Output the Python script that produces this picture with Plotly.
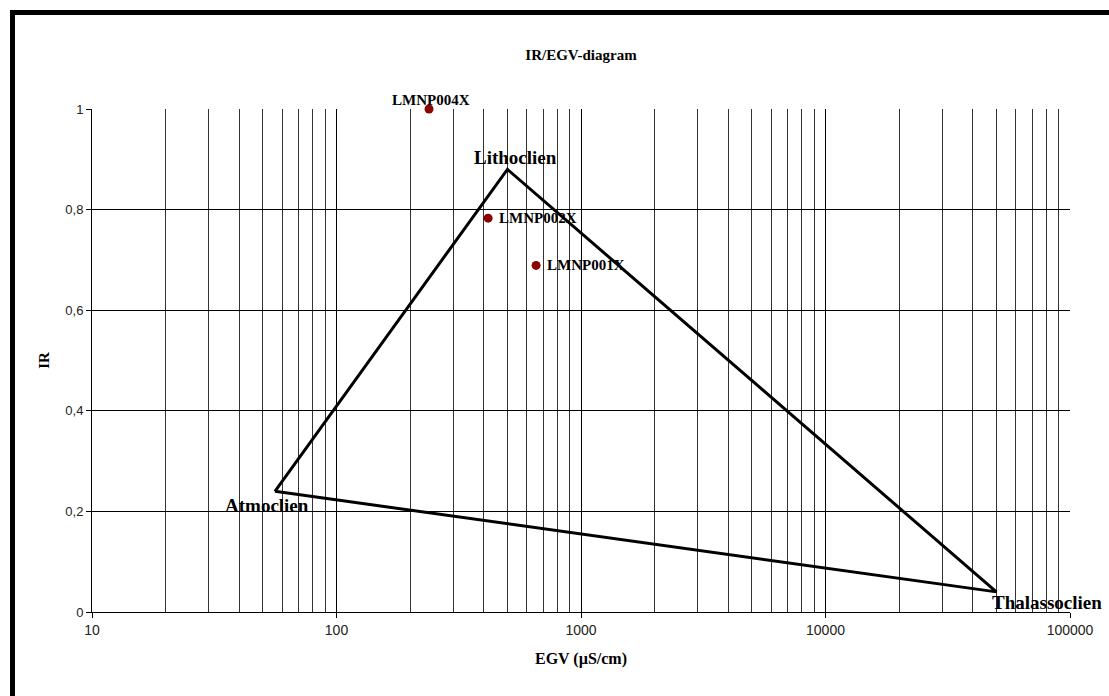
import math
import plotly.graph_objects as go

# Data
triangle_names = ["Atmoclien", "Lithoclien", "Thalassoclien"]
triangle_egv = [56, 500, 50000]
triangle_ir = [0.24, 0.88, 0.04]

sample_names = ["LMNP004X", "LMNP002X", "LMNP001X"]
sample_egv = [239, 417, 655]
sample_ir = [1.0, 0.783, 0.689]

x_tickvals = [10, 100, 1000, 10000, 100000]
x_ticktext = ["10", "100", "1000", "10000", "100000"]
y_tickvals = [0, 0.2, 0.4, 0.6, 0.8, 1.0]
y_ticktext = ["0", "0,2", "0,4", "0,6", "0,8", "1"]

W, H = 1109, 696
ML, MR, MT, MB = 92, 39, 109, 84
PW = W - ML - MR
PH = H - MT - MB

serif = "Liberation Serif"
sans = "Liberation Sans"

fig = go.Figure()

# triangle
fig.add_trace(go.Scatter(
    x=triangle_egv + [triangle_egv[0]],
    y=triangle_ir + [triangle_ir[0]],
    mode="lines",
    line=dict(color="black", width=3),
    hoverinfo="skip",
    showlegend=False,
    cliponaxis=False,
))

# samples
fig.add_trace(go.Scatter(
    x=sample_egv, y=sample_ir, mode="markers",
    marker=dict(color="#8B0000", size=9),
    showlegend=False, cliponaxis=False,
))

# vertex labels (annotations; log axis uses log10 coords)
v_style = [("center", -8, -14), ("center", 8, 12), ("center", 51, -11)]
for n, xv, yv, (xa, dx, dy) in zip(triangle_names, triangle_egv, triangle_ir, v_style):
    fig.add_annotation(
        x=math.log10(xv), y=yv, xref="x", yref="y", text="<b>%s</b>" % n,
        showarrow=False, xanchor=xa, yanchor="middle", xshift=dx, yshift=dy,
        font=dict(family=serif, size=19, color="black"),
    )

s_style = [("center", 2, 9), ("left", 9, 0), ("left", 9, 0)]
for n, xv, yv, (xa, dx, dy) in zip(sample_names, sample_egv, sample_ir, s_style):
    fig.add_annotation(
        x=math.log10(xv), y=yv, xref="x", yref="y", text="<b>%s</b>" % n,
        showarrow=False, xanchor=xa, yanchor="middle", xshift=dx, yshift=dy,
        font=dict(family=serif, size=15, color="black"),
    )

minor_vals = [m * 10 ** e for e in range(1, 5) for m in range(2, 10)]

fig.update_layout(
    width=W, height=H,
    margin=dict(l=ML, r=MR, t=MT, b=MB),
    paper_bgcolor="white", plot_bgcolor="white",
    title=dict(text="<b>IR/EGV-diagram</b>", x=(ML + PW / 2) / W, xanchor="center",
               y=1 - 55 / H, yanchor="middle",
               font=dict(family=serif, size=15, color="black")),
    xaxis=dict(
        type="log", range=[1, 5],
        tickmode="array", tickvals=x_tickvals, ticktext=x_ticktext,
        ticks="outside", ticklen=5, tickcolor="black",
        showgrid=True, gridcolor="black", gridwidth=1,
        showline=True, linecolor="black", linewidth=1,
        zeroline=False,
        tickfont=dict(family=sans, size=14, color="#222"),
        title=dict(text="<b>EGV (µS/cm)</b>", font=dict(family=serif, size=16, color="black"), standoff=16),
        minor=dict(tickmode="array", tickvals=minor_vals, showgrid=True,
                   gridcolor="#333", gridwidth=1, ticks=""),
    ),
    yaxis=dict(
        range=[0, 1],
        tickmode="array", tickvals=y_tickvals, ticktext=y_ticktext,
        ticks="outside", ticklen=5, tickcolor="black",
        showgrid=True, gridcolor="black", gridwidth=1,
        showline=True, linecolor="black", linewidth=1,
        zeroline=False,
        tickfont=dict(family=sans, size=13, color="#222"),
        title=dict(text="<b>IR</b>", font=dict(family=serif, size=15, color="black"), standoff=12),
    ),
)

# border (top and left) in pixels -> paper coords
def px2x(px):
    return (px - ML) / PW

def py2y(py):
    return 1 - (py - MT) / PH

fig.add_shape(type="rect", xref="paper", yref="paper",
              x0=px2x(10), x1=px2x(W + 5), y0=py2y(15), y1=py2y(10),
              fillcolor="black", line=dict(width=0), layer="above")
fig.add_shape(type="rect", xref="paper", yref="paper",
              x0=px2x(10), x1=px2x(15), y0=py2y(H + 5), y1=py2y(10),
              fillcolor="black", line=dict(width=0), layer="above")

fig.write_html("out.html")
